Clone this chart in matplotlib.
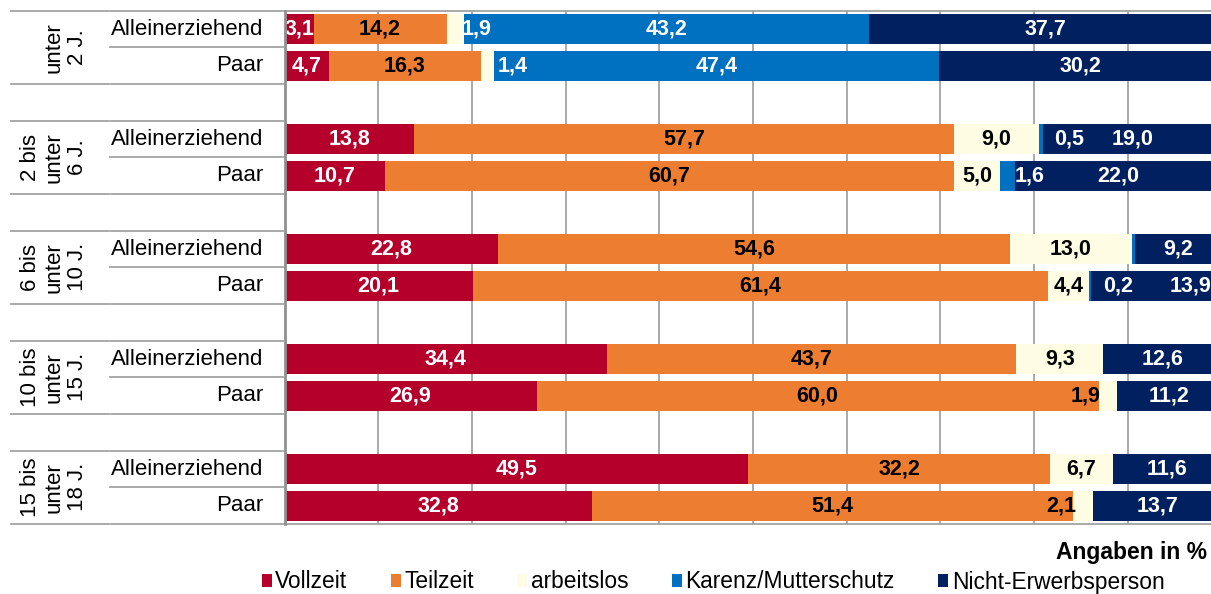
import matplotlib
matplotlib.use("Agg")
import matplotlib.pyplot as plt
from matplotlib.patches import Patch
from matplotlib.transforms import blended_transform_factory

plt.rcParams["font.family"] = ["Liberation Sans", "DejaVu Sans"]

groups = ["unter\n2 J.", "2 bis\nunter\n6 J.", "6 bis\nunter\n10 J.",
          "10 bis\nunter\n15 J.", "15 bis\nunter\n18 J."]
rows = ["Alleinerziehend", "Paar"]
categories = ["Vollzeit", "Teilzeit", "arbeitslos", "Karenz/Mutterschutz",
              "Nicht-Erwerbsperson"]

# one value per bar, order: (group, row)
vollzeit = [3.1, 4.7, 13.8, 10.7, 22.8, 20.1, 34.4, 26.9, 49.5, 32.8]
teilzeit = [14.2, 16.3, 57.7, 60.7, 54.6, 61.4, 43.7, 60.0, 32.2, 51.4]
arbeitslos = [1.9, 1.4, 9.0, 5.0, 13.0, 4.4, 9.3, 1.9, 6.7, 2.1]
karenz = [43.2, 47.4, 0.5, 1.6, 0.4, 0.2, 0.0, 0.0, 0.0, 0.0]
nicht_erwerb = [37.7, 30.2, 19.0, 22.0, 9.2, 13.9, 12.6, 11.2, 11.6, 13.7]

series = [vollzeit, teilzeit, arbeitslos, karenz, nicht_erwerb]
colors = ["#B4002B", "#ED7D31", "#FEFDE3", "#0070C0", "#00205F"]
label_colors = ["white", "black", "black", "white", "white"]

# label nudges (series index, bar index) -> (dx in %, colour), as in the original
nudges = {
    (2, 0): (2.2, "white"), (2, 1): (2.6, "white"),
    (3, 2): (3.0, None), (3, 3): (2.3, None), (3, 5): (3.0, None),
    (4, 5): (3.6, None),
    (2, 7): (-2.4, None), (2, 9): (-2.4, None),
}
hidden = {(3, 4)}

W, H = 1211, 594
fig = plt.figure(figsize=(W / 100, H / 100), dpi=100)
x0, x100 = 284.5, 1221.5
top, bottom = 10.7, 524.0
ax = fig.add_axes([x0 / W, 1 - bottom / H, (x100 - x0) / W, (bottom - top) / H])

ypos = [3 * g + r for g in range(len(groups)) for r in range(len(rows))]
left = [0.0] * len(ypos)
for si, (vals, col) in enumerate(zip(series, colors)):
    ax.barh(ypos, vals, left=left, height=0.81, color=col, zorder=3)
    for bi, (y, l, v) in enumerate(zip(ypos, left, vals)):
        if v <= 0 or (si, bi) in hidden:
            continue
        dx, c = nudges.get((si, bi), (0.0, None))
        ax.text(l + v / 2 + dx, y, f"{v:.1f}".replace(".", ","),
                ha="center", va="center", fontsize=15.5, fontweight="bold",
                color=c or label_colors[si], zorder=4, clip_on=True)
    left = [a + b for a, b in zip(left, vals)]

grid_c = "#A3A3A3"
ax.set_xlim(0, 100)
ax.set_ylim(13.5, -0.5)
ax.set_xticks(range(0, 101, 10))
ax.set_yticks([])
ax.tick_params(axis="x", length=0, labelbottom=False)
ax.grid(axis="x", color=grid_c, linewidth=1.3, zorder=0)
ax.spines["right"].set_visible(False)
ax.spines["left"].set_color("#909090")
ax.spines["left"].set_linewidth(2.0)
ax.spines["left"].set_zorder(5)
for s in ["top", "bottom"]:
    ax.spines[s].set_color(grid_c)
    ax.spines[s].set_linewidth(1.3)

# table on the left
tr = blended_transform_factory(ax.transAxes, ax.transData)
xa = (11 - x0) / (x100 - x0)
xb = (110 - x0) / (x100 - x0)
xe = (283 - x0) / (x100 - x0)
xrow = (263 - x0) / (x100 - x0)
xgrp = (88 - x0) / (x100 - x0)
for g, name in enumerate(groups):
    y0 = 3 * g - 0.5
    for yy in (y0, y0 + 2):
        ax.plot([xa, xb - 0.001], [yy, yy], color=grid_c, lw=1.3,
                transform=tr, clip_on=False)
        ax.plot([xb + 0.001, xe], [yy, yy], color=grid_c, lw=1.3,
                transform=tr, clip_on=False)
    ax.plot([xb, xe], [y0 + 1, y0 + 1], color=grid_c, lw=1.3,
            transform=tr, clip_on=False)
    ax.text(xgrp, 3 * g + 0.5, name, rotation=90, ha="right", va="center",
            multialignment="center", fontsize=16, linespacing=1.15,
            transform=tr)
    for r, rname in enumerate(rows):
        ax.text(xrow, 3 * g + r, rname, ha="right", va="center",
                fontsize=16, transform=tr)

fig.text(1207 / W, 1 - 552 / H, "Angaben in %", ha="right", va="center",
         fontsize=16.5, fontweight="bold")

handles = [Patch(facecolor=c, edgecolor="none", label=n)
           for c, n in zip(colors, categories)]
fig.legend(handles=handles, loc="center", ncol=5,
           bbox_to_anchor=(713 / W, 1 - 582 / H), frameon=False,
           fontsize=16.4, handlelength=0.45, handleheight=0.45,
           handletextpad=0.15, columnspacing=1.9, borderpad=0,
           borderaxespad=0)

fig.savefig("out.png", dpi=100)
